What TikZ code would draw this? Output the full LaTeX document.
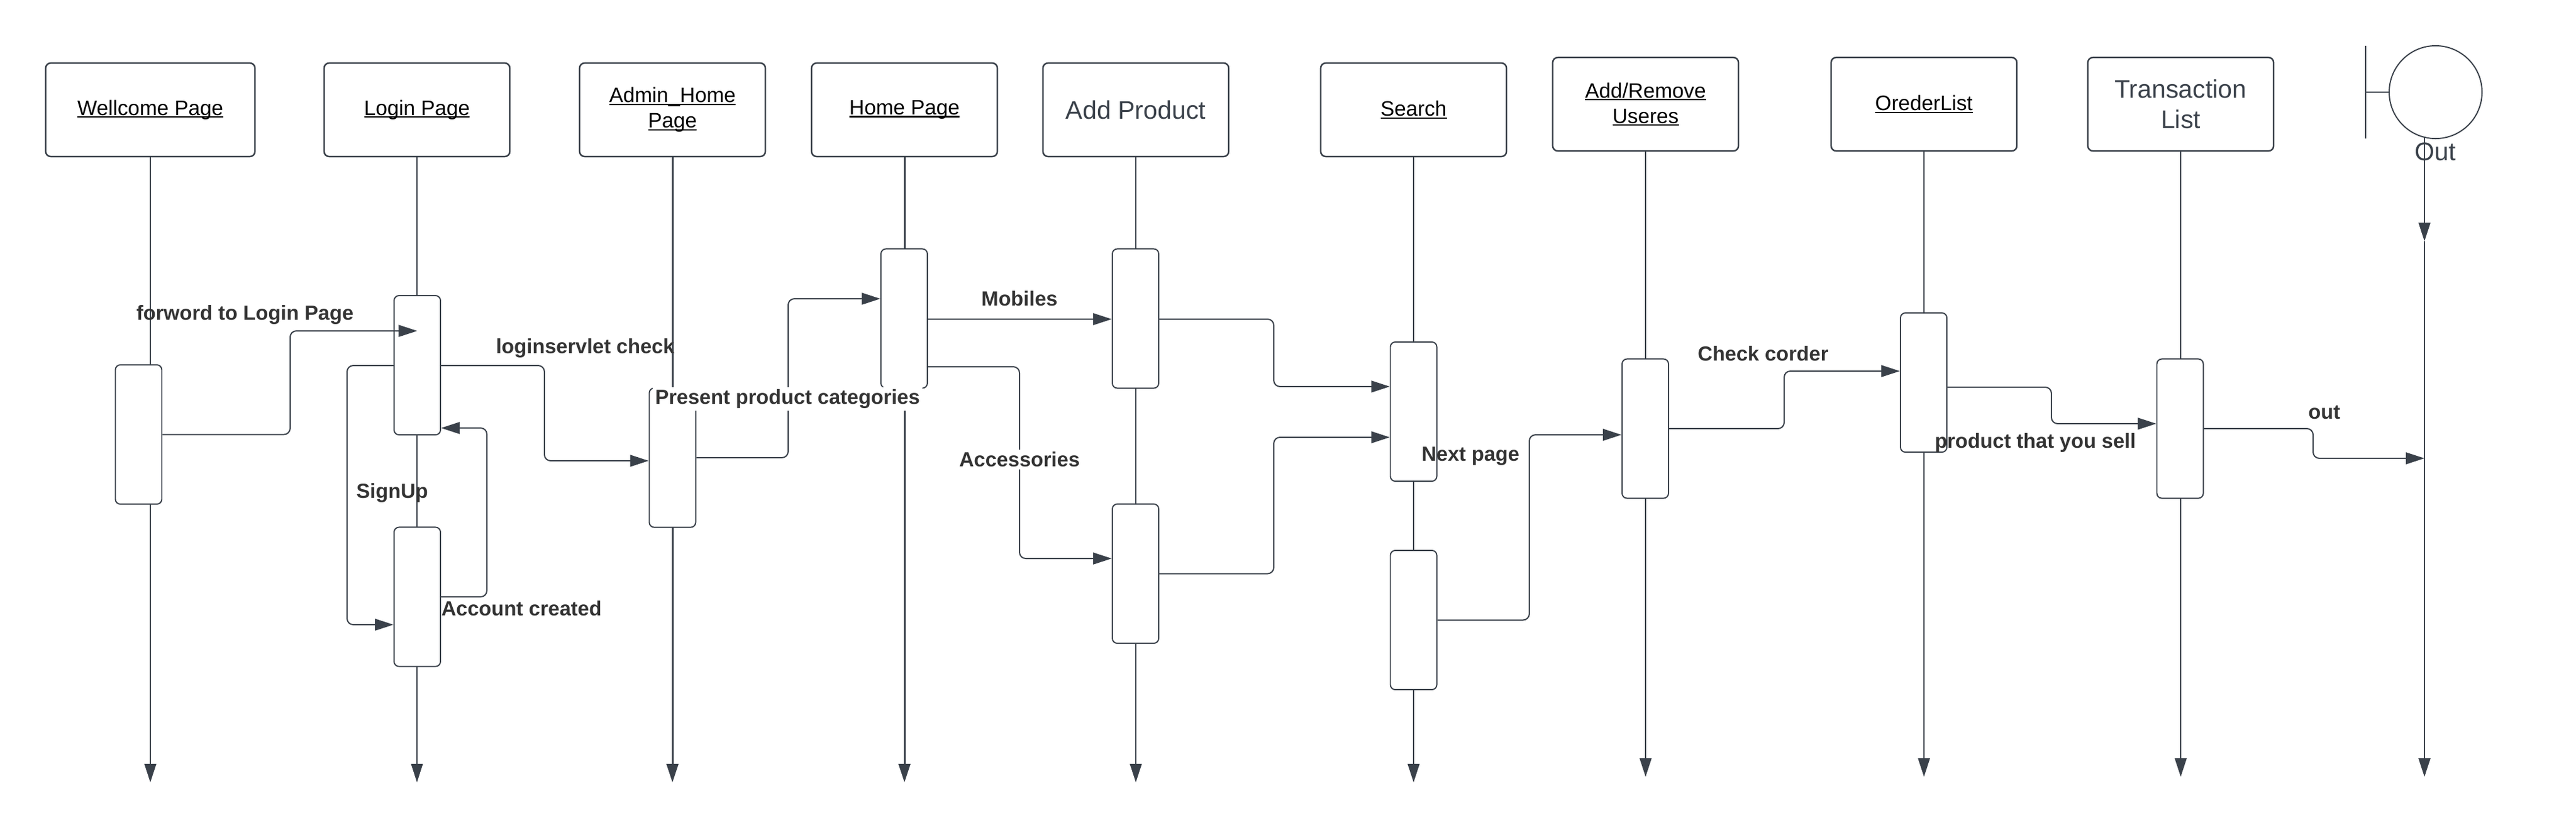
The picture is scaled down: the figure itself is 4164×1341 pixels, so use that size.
\documentclass[tikz,border=0pt]{standalone}
\usepackage{fontspec}
\setmainfont{Liberation Sans}
\usetikzlibrary{arrows.meta}
\definecolor{lc}{HTML}{3A414A}
\definecolor{tc}{HTML}{333333}
\newcommand{\ulabel}[1]{\setbox0\hbox{#1}\rlap{\rule[-0.12em]{\wd0}{0.065em}}\box0}

\tikzset{
  head/.style={draw=lc, rounded corners=0.08cm, line width=0.7pt, minimum width=3cm, minimum height=1.51cm, align=center, font=\fontsize{9.6}{11.7}\selectfont},
  bighead/.style={head, text=lc, font=\fontsize{11.7}{14}\selectfont},
  act/.style={draw=lc, fill=white, rounded corners=0.08cm, line width=0.55pt, minimum width=0.75cm, minimum height=2.25cm, inner sep=0pt},
  life/.style={draw=lc, line width=0.57pt, -{Triangle[length=0.3cm,width=0.19cm]}},
  msg/.style={draw=lc, line width=0.57pt, rounded corners=0.1cm, -{Triangle[length=0.3cm,width=0.19cm]}},
  lbl/.style={text=tc, font=\fontsize{9.4}{11}\selectfont\bfseries, inner sep=1pt},
}

\begin{document}
\begin{tikzpicture}[x=0.01cm, y=-0.01cm]
  \useasboundingbox (0,0) rectangle (4164,1341);
  \node[head, minimum width=3.38cm] (wHead) at (243,177.5) {\ulabel{Wellcome Page}};
  \node[head] (lHead) at (674,177.5) {\ulabel{Login Page}};
  \node[head] (aHead) at (1087,177.5) {\ulabel{Admin\_Home}\\\ulabel{Page}};
  \node[head] (hHead) at (1462,177.5) {\ulabel{Home Page}};
  \node[bighead] (pHead) at (1836,177.5) {Add Product};
  \node[head] (sHead) at (2285,177.5) {\ulabel{Search}};
  \node[head] (uHead) at (2660,168.5) {\ulabel{Add/Remove}\\\ulabel{Useres}};
  \node[head] (oHead) at (3110,168.5) {\ulabel{OrederList}};
  \node[bighead] (tHead) at (3525,168.5) {Transaction\\List};
  \node[draw=lc, circle, line width=0.55pt, minimum size=1.5cm, inner sep=0pt] (outCirc) at (3937,149) {};
  \node[text=lc, font=\fontsize{11.7}{14}\selectfont, inner sep=0pt] (outLbl) at (3937,245) {Out};
  \coordinate (outBarTop) at (3824,74);
  \coordinate (outBarBot) at (3824,224);
  \coordinate (outBarMid) at (3824,149);
  \coordinate (outFoot) at (3919,222);
  \coordinate (outMid) at (3919,390);
  \draw[draw=lc, line width=0.55pt] (outBarTop) -- (outBarBot);
  \draw[draw=lc, line width=0.55pt] (outBarMid) -- (outCirc.west);
  \draw[life] (wHead.south) -- (wHead.south |- 0,1265);
  \draw[life, line width=0.3pt] (lHead.south) -- (lHead.south |- 0,1265);
  \draw[life, line width=0.85pt] (aHead.south) -- (aHead.south |- 0,1265);
  \draw[life, line width=0.85pt] (hHead.south) -- (hHead.south |- 0,1265);
  \draw[life] (pHead.south) -- (pHead.south |- 0,1265);
  \draw[life] (sHead.south) -- (sHead.south |- 0,1265);
  \draw[life] (uHead.south) -- (uHead.south |- 0,1256);
  \draw[life] (oHead.south) -- (oHead.south |- 0,1256);
  \draw[life] (tHead.south) -- (tHead.south |- 0,1256);
  \draw[life, line width=0.7pt] (outFoot) -- (outMid);
  \draw[life, line width=0.7pt] (outMid) -- (outMid |- 0,1256);
  \node[act] (wAct) at (224,702.5) {};
  \node[act] (lAct1) at (674.5,590.5) {};
  \node[act] (lAct2) at (674.5,965) {};
  \node[act] (aAct) at (1087,740) {};
  \node[act] (hAct) at (1461.5,515) {};
  \node[act] (pAct1) at (1835.5,515) {};
  \node[act] (pAct2) at (1835.5,927.5) {};
  \node[act] (sAct1) at (2285,665.5) {};
  \node[act] (sAct2) at (2285,1002.5) {};
  \node[act] (uAct) at (2659.5,693) {};
  \node[act] (oAct) at (3109.5,618.5) {};
  \node[act] (tAct) at (3524,693) {};
  \draw[msg] (wAct.east) -| (469,535) -- (lAct1.center |- 0,535);
  \draw[msg] (lAct1.east |- 0,591) -| (880,745) -- (aAct.west |- 0,745);
  \draw[msg] (lAct1.west |- 0,591) -| (561,1010) -- (lAct2.west |- 0,1010);
  \draw[msg] (lAct2.east) -| (787,692) -- (lAct1.east |- 0,692);
  \draw[msg] (aAct.east) -| (1274,483) -- (hAct.west |- 0,483);
  \draw[msg] (hAct.east |- 0,516) -- (pAct1.west |- 0,516);
  \draw[msg] (hAct.east |- 0,593) -| (1648,903) -- (pAct2.west |- 0,903);
  \draw[msg] (pAct1.east |- 0,516) -| (2059,625) -- (sAct1.west |- 0,625);
  \draw[msg] (pAct2.east) -| (2059,707) -- (sAct1.west |- 0,707);
  \draw[msg] (sAct2.east) -| (2472,703) -- (uAct.west |- 0,703);
  \draw[msg] (uAct.east) -| (2884,600) -- (oAct.west |- 0,600);
  \draw[msg] (oAct.east |- 0,626) -| (3316,685) -- (tAct.west |- 0,685);
  \draw[msg] (tAct.east) -| (3739,741) -- (outMid |- 0,741);
  \node[lbl] (lblForward) at (396,509) {forword to Login Page};
  \node[lbl] (lblServlet) at (946,563) {loginservlet check};
  \node[lbl] (lblSignUp) at (634,797) {SignUp};
  \node[lbl] (lblCreated) at (843,984) {Account created};
  \node[lbl, fill=white] (lblPresent) at (1273,645) {Present product categories};
  \node[lbl] (lblMobiles) at (1648,483) {Mobiles};
  \node[lbl, fill=white] (lblAccess) at (1648,743) {Accessories};
  \node[lbl] (lblNext) at (2377,738) {Next page};
  \node[lbl] (lblCheck) at (2850,572) {Check corder};
  \node[lbl] (lblSell) at (3290,716) {product that you sell};
  \node[lbl] (lblOut) at (3757,667) {out};
\end{tikzpicture}
\end{document}
